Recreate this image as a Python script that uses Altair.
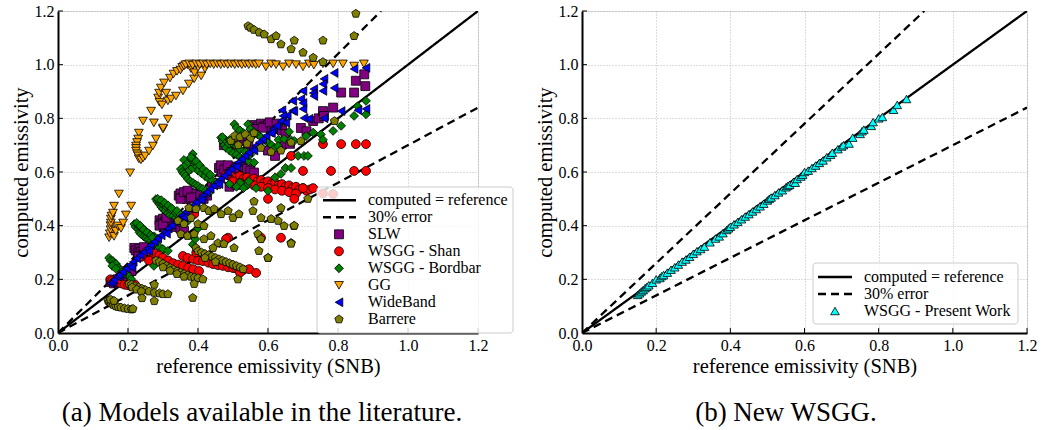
import altair as alt
import pandas as pd

FONT = "Liberation Serif"
TICKS = [0.0, 0.2, 0.4, 0.6, 0.8, 1.0, 1.2]

SERIES = ["SLW", "WSGG - Shan", "WSGG - Bordbar", "GG", "WideBand", "Barrere", "WSGG - Present Work"]
COLORS = ["#800080", "#ff0000", "#008000", "#ffa500", "#0000ff", "#808000", "#00ffff"]
PENT = "M0,-1L0.951,-0.309L0.588,0.809L-0.588,0.809L-0.951,-0.309Z"
SHAPES = ["square", "circle", "diamond", "triangle-down", "triangle-left", PENT, "triangle-up"]
SIZES = [80, 75, 140, 95, 90, 95, 72]

slw_x = [0.150,0.155,0.160,0.165,0.170,0.180,0.190,0.200,0.210,
 0.218,0.222,0.228,0.233,0.238,0.244,0.250,0.258,0.266,0.230,0.245,
 0.290,0.295,0.300,0.305,0.310,0.315,0.322,0.330,0.340,0.350,0.360,0.290,0.300,0.310,
 0.345,0.350,0.356,0.362,0.368,0.375,0.382,0.390,0.398,0.407,0.416,0.426,0.440,0.452,0.350,0.360,0.370,0.380,
 0.460,0.468,0.476,0.484,0.492,0.500,0.508,0.516,0.524,0.532,0.540,0.550,0.560,0.490,0.510,0.465,0.475,0.485,0.495,0.505,
 0.474,0.490,0.508,0.526,0.544,
 0.560,0.570,0.580,0.590,0.600,0.610,0.620,0.630,0.640,0.650,0.565,0.585,0.605,0.625,
 0.600,0.620,0.640,0.663,0.694,0.710,0.729,0.745,0.757,0.760,0.786,0.809,0.846,0.851,0.875,0.878]
slw_y = [0.190,0.195,0.185,0.192,0.200,0.196,0.206,0.222,0.231,
 0.317,0.308,0.300,0.314,0.304,0.296,0.310,0.300,0.292,0.285,0.320,
 0.420,0.410,0.426,0.415,0.402,0.421,0.410,0.400,0.395,0.390,0.380,0.400,0.405,0.430,
 0.512,0.520,0.505,0.516,0.500,0.522,0.508,0.518,0.503,0.515,0.500,0.512,0.560,0.555,0.500,0.525,0.530,0.505,
 0.615,0.600,0.620,0.608,0.616,0.620,0.604,0.618,0.606,0.620,0.612,0.605,0.598,0.545,0.552,0.625,0.610,0.625,0.600,0.610,
 0.700,0.712,0.700,0.716,0.702,
 0.775,0.768,0.780,0.770,0.776,0.765,0.770,0.760,0.755,0.742,0.760,0.765,0.785,0.780,
 0.680,0.660,0.702,0.705,0.764,0.752,0.790,0.800,0.827,0.809,0.840,0.896,0.896,0.940,0.964,0.920]

shan_x = [0.150,0.155,0.160,0.170,0.180,0.190,0.200,0.210,0.220,
 0.240,0.250,0.260,0.274,0.290,0.300,0.315,0.329,0.343,0.357,0.372,0.386,0.403,
 0.357,0.370,0.386,0.400,0.414,0.430,0.443,0.457,0.471,0.486,0.500,0.510,0.517,0.530,0.546,0.566,0.520,0.395,
 0.486,0.389,0.480,
 0.480,0.490,0.500,0.510,0.520,0.530,0.540,0.550,0.560,0.570,0.580,0.590,0.600,0.610,0.620,0.630,0.640,0.650,0.660,0.670,0.680,0.690,0.700,0.710,0.720,
 0.500,0.520,0.540,0.560,0.580,0.600,0.620,0.640,0.660,0.680,0.700,0.729,
 0.600,0.675,0.757,0.786,0.666,0.700,0.780,0.846,0.880,0.757,0.809,0.851,0.880,0.580,0.637]
shan_y = [0.200,0.195,0.190,0.190,0.185,0.180,0.178,0.175,0.180,
 0.285,0.300,0.270,0.298,0.290,0.280,0.270,0.260,0.255,0.250,0.243,0.238,0.231,
 0.287,0.280,0.276,0.270,0.268,0.262,0.257,0.253,0.250,0.245,0.242,0.240,0.238,0.235,0.238,0.224,0.225,0.300,
 0.355,0.443,0.350,
 0.590,0.585,0.590,0.580,0.585,0.575,0.580,0.570,0.575,0.565,0.570,0.560,0.565,0.555,0.560,0.550,0.555,0.545,0.550,0.540,0.545,0.535,0.540,0.530,0.535,
 0.565,0.560,0.555,0.550,0.545,0.540,0.535,0.530,0.525,0.520,0.540,0.540,
 0.500,0.500,0.520,0.518,0.660,0.604,0.604,0.604,0.604,0.704,0.704,0.704,0.704,0.355,0.355]

bord_x = [0.146,0.150,0.157,0.162,0.166,0.174,0.180,0.186,0.194,0.203,0.209,0.155,0.165,
 0.218,0.222,0.229,0.233,0.237,0.245,0.251,0.258,0.266,0.273,0.280,0.290,0.300,0.314,0.230,0.240,0.250,0.260,0.275,0.285,0.274,
 0.225,0.235,0.245,0.255,0.265,0.270,
 0.280,0.284,0.289,0.295,0.300,0.307,0.314,0.320,0.329,0.337,0.346,0.358,0.371,0.290,0.300,0.310,0.322,0.335,
 0.285,0.295,0.305,0.315,0.325,0.340,0.350,
 0.385,0.385,0.392,0.400,
 0.385,0.387,0.390,0.395,0.400,0.410,0.420,0.430,0.440,0.450,0.370,0.375,0.380,
 0.360,0.368,0.380,0.395,0.405,0.415,0.425,0.435,0.360,0.370,
 0.351,0.355,0.360,0.365,0.371,0.378,0.386,0.393,0.400,0.407,0.414,0.422,0.431,
 0.466,0.470,0.475,0.480,0.490,0.500,0.510,0.520,0.530,0.545,0.560,0.478,0.488,
 0.470,0.490,0.500,0.510,0.520,0.535,0.550,
 0.504,0.510,0.520,0.530,0.543,0.550,0.560,0.570,0.580,0.590,0.600,0.610,0.620,0.630,0.646,0.660,0.665,
 0.566,0.600,0.620,0.637,0.650,0.666,0.686,0.703,0.714,0.629,0.675,0.709,0.729,0.751,0.757,0.786,0.809,0.846,0.856,0.880,0.880,0.540,0.520,
 0.490,0.510,0.530,0.545]
bord_y = [0.280,0.270,0.268,0.260,0.257,0.242,0.235,0.231,0.220,0.212,0.201,0.250,0.240,
 0.406,0.395,0.388,0.375,0.369,0.360,0.354,0.348,0.343,0.338,0.332,0.320,0.313,0.306,0.400,0.390,0.380,0.370,0.360,0.350,0.250,
 0.410,0.400,0.385,0.375,0.365,0.355,
 0.499,0.490,0.481,0.470,0.462,0.455,0.447,0.440,0.436,0.430,0.425,0.420,0.417,0.490,0.480,0.470,0.460,0.450,
 0.500,0.495,0.485,0.475,0.465,0.455,0.440,
 0.360,0.330,0.350,0.390,
 0.667,0.650,0.635,0.620,0.605,0.595,0.585,0.575,0.570,0.560,0.640,0.625,0.610,
 0.645,0.630,0.655,0.640,0.625,0.610,0.600,0.590,0.620,0.600,
 0.611,0.600,0.593,0.585,0.574,0.565,0.559,0.553,0.548,0.540,0.537,0.530,0.522,
 0.728,0.715,0.700,0.690,0.680,0.670,0.665,0.655,0.650,0.640,0.635,0.720,0.705,
 0.730,0.720,0.705,0.695,0.685,0.675,0.665,
 0.778,0.765,0.755,0.745,0.778,0.760,0.750,0.740,0.730,0.720,0.710,0.700,0.690,0.720,0.723,0.750,0.720,
 0.540,0.530,0.580,0.593,0.615,0.615,0.660,0.660,0.660,0.697,0.716,0.734,0.747,0.740,0.720,0.753,0.772,0.809,0.845,0.815,0.865,0.550,0.560,
 0.555,0.545,0.540,0.565]

gg_x = [0.146,0.148,0.150,0.150,0.151,0.151,0.153,0.157,0.160,0.174,0.160,0.165,0.171,0.180,0.186,0.194,0.209,
 0.206,
 0.231,0.229,0.226,0.223,0.223,0.223,0.226,0.229,0.231,0.237,0.243,0.249,0.260,0.271,0.280,0.300,
 0.243,0.266,0.274,0.300,0.314,
 0.286,0.289,0.294,0.303,0.309,0.314,0.323,0.337,0.357,0.374,0.389,0.409,0.290,0.297,
 0.320,0.330,0.340,0.350,0.355,0.360,0.370,0.380,0.390,0.400,0.420,
 0.365,0.375,0.385,0.395,0.405,0.415,0.425,0.435,0.445,0.455,0.465,0.475,0.485,0.495,0.505,0.515,0.525,0.535,0.545,0.555,0.565,
 0.574,0.594,0.609,0.623,0.643,0.660,0.680,0.700,0.717,0.731,0.757,0.786,0.814,0.846,0.874]
gg_y = [0.355,0.370,0.385,0.400,0.410,0.425,0.436,0.447,0.473,0.518,0.360,0.380,0.399,0.390,0.410,0.440,0.473,
 0.597,
 0.745,0.723,0.710,0.697,0.688,0.678,0.668,0.660,0.649,0.645,0.652,0.660,0.678,0.697,0.723,0.760,
 0.790,0.827,0.783,0.764,0.797,
 0.876,0.894,0.913,0.932,0.894,0.865,0.872,0.883,0.902,0.928,0.947,0.958,0.860,0.850,
 0.950,0.965,0.975,0.980,0.990,0.995,1.000,0.985,0.970,0.990,0.985,
 1.000,1.003,0.998,1.003,1.000,1.003,1.000,1.003,1.000,1.003,1.000,1.003,1.000,1.003,1.000,1.003,1.000,1.003,1.000,1.003,1.000,
 1.003,0.992,1.003,1.000,0.992,1.003,1.000,0.992,1.003,0.998,1.003,1.003,1.003,0.995,1.003]

wb_x = [0.150,0.155,0.160,0.170,0.175,0.185,0.195,0.205,0.215,0.225,0.235,0.245,0.255,0.265,0.275,
 0.285,0.295,0.305,0.315,0.325,0.335,0.345,0.355,0.365,0.375,0.385,0.395,0.405,0.415,0.425,
 0.435,0.445,0.455,0.465,0.475,0.485,0.495,0.505,0.515,0.525,0.535,0.545,0.555,0.565,0.575,
 0.585,0.595,0.605,0.615,0.625,0.640,0.655,0.670,
 0.210,0.260,0.310,0.360,0.410,0.460,0.510,0.560,0.610,
 0.640,0.671,0.700,0.731,0.760,0.789,0.846,0.880,
 0.643,0.674,0.694,0.700,0.729,0.731,0.757,0.757,0.789,
 0.637,0.651,0.700,0.703,0.717,0.760,0.809,0.857,0.880]
wb_y = [0.185,0.190,0.198,0.210,0.216,0.228,0.240,0.253,0.265,0.278,0.290,0.302,0.315,0.327,0.340,
 0.352,0.364,0.376,0.389,0.401,0.414,0.426,0.438,0.451,0.463,0.475,0.488,0.500,0.512,0.525,
 0.537,0.550,0.562,0.574,0.587,0.599,0.611,0.624,0.636,0.648,0.661,0.673,0.685,0.698,0.710,
 0.722,0.735,0.747,0.760,0.772,0.790,0.810,0.828,
 0.245,0.305,0.370,0.430,0.495,0.555,0.620,0.680,0.745,
 0.830,0.865,0.902,0.909,0.947,0.969,0.984,0.988,
 0.809,0.827,0.872,0.857,0.894,0.883,0.928,0.902,0.913,
 0.790,0.783,0.835,0.801,0.798,0.800,0.827,0.830,0.835]

bar_x = [0.143,0.147,0.152,0.158,0.165,0.172,0.180,0.190,0.200,0.210,0.214,0.150,0.160,
 0.203,0.210,0.220,0.230,0.240,0.250,0.260,0.275,0.290,0.300,0.314,0.212,0.225,0.238,0.275,0.240,0.275,
 0.280,0.290,0.300,0.310,0.320,0.330,0.340,0.350,0.360,0.370,0.380,0.390,0.400,0.414,0.300,0.320,0.340,0.360,
 0.394,0.400,0.410,0.420,0.430,0.440,0.450,0.460,0.470,0.480,0.490,0.500,0.510,0.520,0.529,0.420,0.450,
 0.374,0.394,0.417,0.431,0.446,0.466,0.486,0.500,0.517,0.557,0.580,0.609,0.629,0.646,0.674,0.560,0.637,0.714,
 0.351,0.370,0.389,0.417,0.437,0.457,0.474,0.503,0.443,0.571,0.580,0.600,0.666,0.574,
 0.343,0.360,0.380,0.400,0.417,
 0.385,0.389,0.514,0.600,0.666,0.675,
 0.494,0.505,0.520,0.535,0.550,0.560,0.580,0.609,0.637,0.666,0.694,0.515,0.540,
 0.543,0.550,0.560,0.575,0.589,0.609,0.623,0.637,0.666,0.675,0.700,0.729,0.757,0.757,0.846,0.851,0.790]
bar_y = [0.120,0.115,0.110,0.105,0.100,0.097,0.095,0.092,0.090,0.088,0.090,0.125,0.120,
 0.183,0.180,0.175,0.170,0.165,0.160,0.155,0.150,0.148,0.145,0.145,0.170,0.162,0.155,0.119,0.130,0.180,
 0.270,0.265,0.258,0.250,0.243,0.237,0.230,0.225,0.220,0.215,0.210,0.207,0.205,0.200,0.245,0.232,0.220,0.210,
 0.317,0.305,0.300,0.295,0.290,0.285,0.280,0.275,0.270,0.265,0.260,0.255,0.250,0.245,0.238,0.280,0.265,
 0.466,0.462,0.466,0.455,0.462,0.443,0.455,0.429,0.443,0.455,0.429,0.425,0.418,0.399,0.399,0.490,0.466,0.500,
 0.369,0.362,0.369,0.350,0.362,0.335,0.332,0.317,0.317,0.369,0.350,0.280,0.336,0.306,
 0.418,0.406,0.429,0.406,0.399,
 0.131,0.183,0.200,0.280,0.333,0.400,
 0.716,0.735,0.730,0.740,0.725,0.745,0.690,0.675,0.680,0.710,0.715,0.700,0.705,
 1.144,1.138,1.130,1.120,1.113,1.095,1.107,1.076,1.058,1.090,1.045,1.026,1.090,1.010,1.107,1.190,0.790]

pw_x = [0.150,0.155,0.160,0.165,0.170,0.175,0.180,0.190,0.200,0.210,0.215,0.220,
 0.230,0.240,0.250,0.260,0.270,0.280,0.290,0.300,0.310,0.320,0.330,0.345,0.360,0.370,0.380,0.390,0.395,0.400,
 0.410,0.420,0.430,0.440,0.450,0.460,0.470,0.480,0.490,0.500,0.505,0.510,0.520,0.530,0.540,0.550,0.555,0.560,0.570,0.575,
 0.580,0.590,0.595,0.600,0.610,0.620,0.630,0.640,0.650,0.660,0.670,0.675,0.690,0.700,0.705,0.720,0.730,0.750,0.755,0.760,
 0.780,0.785,0.800,0.810,0.840,0.850,0.875]
pw_y = [0.142,0.148,0.155,0.160,0.167,0.172,0.178,0.187,0.200,0.205,0.212,0.216,
 0.225,0.236,0.245,0.255,0.266,0.274,0.284,0.295,0.305,0.313,0.322,0.338,0.352,0.360,0.372,0.384,0.390,0.396,
 0.405,0.414,0.424,0.434,0.443,0.453,0.462,0.472,0.482,0.494,0.500,0.505,0.514,0.524,0.532,0.543,0.548,0.552,0.563,0.560,
 0.574,0.583,0.590,0.600,0.605,0.615,0.624,0.634,0.643,0.655,0.664,0.672,0.685,0.695,0.700,0.706,0.728,0.742,0.752,0.758,
 0.772,0.786,0.800,0.805,0.832,0.850,0.872]

line_kind = ["identity", "identity", "upper", "upper", "lower", "lower"]
line_x = [0.0, 1.2, 0.0, 0.923, 0.0, 1.2]
line_y = [0.0, 1.2, 0.0, 1.2, 0.0, 0.84]

W1, W2, H = 420, 445, 322

xs = alt.Scale(domain=[0, 1.2], nice=False, zero=False)
ys = alt.Scale(domain=[0, 1.2], nice=False, zero=False)
dash_scale = alt.Scale(domain=["identity", "upper", "lower"], range=[[1, 0], [8, 5], [8, 5]])
shape_scale = alt.Scale(domain=SERIES, range=SHAPES)
fill_scale = alt.Scale(domain=SERIES, range=COLORS)
size_scale = alt.Scale(domain=SERIES, range=SIZES)

ax_common = dict(values=TICKS, format=".1f", ticks=False,
                 grid=True, gridDash=[1, 2], gridColor="#a8a8a8", gridWidth=0.8,
                 domainColor="black", domainWidth=2, labelFont=FONT, labelFontSize=16,
                 labelColor="black", labelPadding=4, labelFlush=False, labelOverlap=False,
                 titleFont=FONT, titleFontSize=20.5, titleFontWeight="normal",
                 titleColor="black", titlePadding=3)
ax_x = alt.Axis(title="reference emissivity (SNB)", **ax_common)
ax_y = alt.Axis(title="computed emissivity", **ax_common)

lines_df = pd.DataFrame({"kind": line_kind, "x": line_x, "y": line_y})
ticks_df = pd.DataFrame({"t": TICKS[1:]})


def base_layers():
    lines = alt.Chart(lines_df).mark_line(color="black", strokeWidth=2.3, clip=True).encode(
        x=alt.X("x:Q", scale=xs, axis=ax_x),
        y=alt.Y("y:Q", scale=ys, axis=ax_y),
        detail="kind:N",
        strokeDash=alt.StrokeDash("kind:N", scale=dash_scale, legend=None),
    )
    xt = alt.Chart(ticks_df).mark_rule(color="black", strokeWidth=1).encode(
        x=alt.X("t:Q", scale=xs, axis=ax_x), y=alt.value(H), y2=alt.value(H - 5))
    yt = alt.Chart(ticks_df).mark_rule(color="black", strokeWidth=1).encode(
        y=alt.Y("t:Q", scale=ys, axis=ax_y), x=alt.value(0), x2=alt.value(5))
    return [lines, xt, yt]


def point_enc():
    return dict(
        shape=alt.Shape("series:N", scale=shape_scale, legend=None),
        fill=alt.Fill("series:N", scale=fill_scale, legend=None),
        size=alt.Size("series:N", scale=size_scale, legend=None),
    )


def legend_layers(box, line_x0, line_x1, sym_x, text_x, rows, names):
    bx0, bx1, by0, by1 = box
    one = pd.DataFrame({"a": [0]})
    rect = alt.Chart(one).mark_rect(fill="white", fillOpacity=0.8, stroke="#cccccc",
                                    strokeWidth=1, cornerRadius=3).encode(
        x=alt.value(bx0), x2=alt.value(bx1), y=alt.value(by0), y2=alt.value(by1))
    ldf = pd.DataFrame({"label": ["computed = reference", "30% error"],
                        "kind": ["identity", "upper"], "py": rows[:2]})
    lrule = alt.Chart(ldf).mark_rule(color="black", strokeWidth=2.5).encode(
        x=alt.value(line_x0), x2=alt.value(line_x1),
        y=alt.Y("py:Q", scale=None),
        strokeDash=alt.StrokeDash("kind:N", scale=dash_scale, legend=None))
    sdf = pd.DataFrame({"series": names, "py": rows[2:]})
    ssym = alt.Chart(sdf).mark_point(filled=True, stroke="black", strokeWidth=0.8, opacity=1).encode(
        x=alt.value(sym_x), y=alt.Y("py:Q", scale=None), **point_enc())
    tdf = pd.DataFrame({"label": ["computed = reference", "30% error"] + names, "py": rows})
    txt = alt.Chart(tdf).mark_text(align="left", baseline="middle", font=FONT, fontSize=16, color="black").encode(
        x=alt.value(text_x), y=alt.Y("py:Q", scale=None), text="label:N")
    return [rect, lrule, ssym, txt]


def caption(text):
    return alt.Chart(pd.DataFrame({"a": [0]})).mark_text(
        align="center", baseline="middle", font=FONT, fontSize=27, color="black").encode(
        x=alt.value(204), y=alt.value(402), text=alt.value(text))


# ----- left panel -----
frames = []
for name, xv, yv in [("SLW", slw_x, slw_y), ("WSGG - Shan", shan_x, shan_y),
                     ("WSGG - Bordbar", bord_x, bord_y), ("GG", gg_x, gg_y),
                     ("WideBand", wb_x, wb_y), ("Barrere", bar_x, bar_y)]:
    n = min(len(xv), len(yv))
    frames.append(pd.DataFrame({"series": name, "x": xv[:n], "y": yv[:n]}))
left_df = pd.concat(frames, ignore_index=True)
left_df["order"] = range(len(left_df))

pts_left = alt.Chart(left_df).mark_point(filled=True, stroke="black", strokeWidth=0.8, opacity=1).encode(
    x=alt.X("x:Q", scale=xs, axis=ax_x),
    y=alt.Y("y:Q", scale=ys, axis=ax_y),
    order="order:Q",
    **point_enc(),
)

ROW0, STEP = 189.3, 17.0
left_rows = [ROW0 + STEP * i for i in range(8)]
left = alt.layer(
    *base_layers(), pts_left,
    *legend_layers((259, 455, 176, 322), 265, 298, 281, 310, left_rows, SERIES[:6]),
    caption("(a) Models available in the literature."),
).properties(width=W1, height=H)

# ----- right panel -----
n = min(len(pw_x), len(pw_y))
right_df = pd.DataFrame({"series": "WSGG - Present Work", "x": pw_x[:n], "y": pw_y[:n]})
pts_right = alt.Chart(right_df).mark_point(filled=True, stroke="black", strokeWidth=0.8, opacity=1).encode(
    x=alt.X("x:Q", scale=xs, axis=ax_x),
    y=alt.Y("y:Q", scale=ys, axis=ax_y),
    **point_enc(),
)
right_rows = [266.0, 283.0, 300.0]
right = alt.layer(
    *base_layers(), pts_right,
    *legend_layers((231, 436, 252, 313), 236, 270, 253, 282, right_rows, ["WSGG - Present Work"]),
    caption("(b) New WSGG."),
).properties(width=W2, height=H)

chart = alt.hconcat(left, right, spacing=20).properties(
    padding={"left": 10, "top": 2, "right": 0, "bottom": 0}
).configure_view(stroke=None).configure(background="white")

chart.save("out.html", embed_options={"renderer": "svg", "actions": False})
